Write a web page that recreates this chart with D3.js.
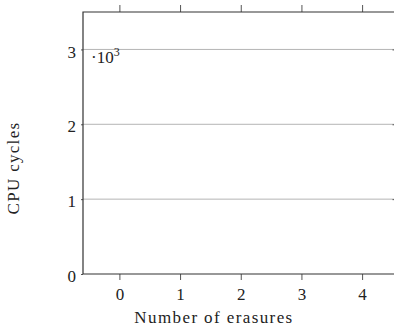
<!DOCTYPE html>
<html>
<head>
<meta charset="utf-8">
<script src="https://cdn.jsdelivr.net/npm/d3@7"></script>
<style>
  body { margin: 0; background: #fff; }
  svg { display: block; }
</style>
</head>
<body>
<script>
// axis settings (no series are plotted)
const xDomain = [-0.6, 4.6];
const yDomain = [0, 3.5];
const xTicks = [0, 1, 2, 3, 4];
const yTicks = [0, 1, 2, 3];
const series = [];

const FONT = '"Liberation Serif"';
const width = 394;
const height = 326;
const margin = { top: 12, right: -4.5, bottom: 52, left: 83 };

const svg = d3.select('body').append('svg')
  .attr('width', width)
  .attr('height', height);

const x = d3.scaleLinear()
  .domain(xDomain)
  .range([margin.left, width - margin.right]);

const y = d3.scaleLinear()
  .domain(yDomain)
  .range([height - margin.bottom, margin.top]);

// grid lines
svg.append('g')
  .selectAll('line')
  .data(yTicks.filter(d => d > 0))
  .enter().append('line')
    .attr('x1', x.range()[0])
    .attr('x2', x.range()[1])
    .attr('y1', d => y(d))
    .attr('y2', d => y(d))
    .attr('stroke', '#b4b4b4')
    .attr('stroke-width', 1);

// bottom axis
const gx = svg.append('g')
  .attr('transform', `translate(0,${y(0)})`)
  .call(d3.axisBottom(x)
    .tickValues(xTicks)
    .tickFormat(d3.format('d'))
    .tickSize(6)
    .tickPadding(8));
gx.attr('font-family', null);
gx.select('.domain').remove();
gx.selectAll('.tick line').attr('stroke', '#555');
gx.selectAll('.tick text')
  .style('font-family', FONT)
  .style('font-size', '17px')
  .attr('fill', '#222');

// top axis (ticks only)
const gt = svg.append('g')
  .attr('transform', `translate(0,${y(yDomain[1])})`)
  .call(d3.axisTop(x).tickValues(xTicks).tickSize(7).tickFormat(''));
gt.select('.domain').remove();
gt.selectAll('.tick line').attr('stroke', '#555');

// left axis
const gy = svg.append('g')
  .attr('transform', `translate(${x(xDomain[0])},0)`)
  .call(d3.axisLeft(y)
    .tickValues(yTicks)
    .tickFormat(d3.format('d'))
    .tickSize(2)
    .tickPadding(5));
gy.attr('font-family', null);
gy.select('.domain').remove();
gy.selectAll('.tick line').attr('stroke', '#555');
gy.selectAll('.tick text')
  .style('font-family', FONT)
  .style('font-size', '17px')
  .attr('fill', '#222')
  .attr('dy', '0.45em');

// right axis ticks, pointing inwards
svg.append('g')
  .attr('transform', `translate(${x(xDomain[1])},0)`)
  .call(d3.axisRight(y).tickValues(yTicks.filter(d => d > 0)).tickSize(-6).tickFormat(''))
  .call(g => g.select('.domain').remove())
  .selectAll('.tick line').attr('stroke', '#555');

// frame: left, top, bottom
svg.append('path')
  .attr('d', `M${x(xDomain[1])},${y(yDomain[1])}H${x(xDomain[0])}V${y(0)}H${x(xDomain[1])}`)
  .attr('fill', 'none')
  .attr('stroke', '#333')
  .attr('stroke-width', 1.2);

// scale factor label
const sf = svg.append('text')
  .attr('x', x(xDomain[0]) + 8)
  .attr('y', y(3) + 14)
  .style('font-family', FONT)
  .style('font-size', '17px')
  .attr('fill', '#222');
sf.append('tspan').text('·10');
sf.append('tspan').attr('dy', -7).style('font-size', '12px').text('3');

// axis titles
svg.append('text')
  .attr('x', 214)
  .attr('y', 323)
  .attr('text-anchor', 'middle')
  .style('font-family', FONT)
  .style('font-size', '17px')
  .style('letter-spacing', '1.4px')
  .attr('fill', '#222')
  .text('Number of erasures');

svg.append('text')
  .attr('transform', 'translate(19,168) rotate(-90)')
  .attr('text-anchor', 'middle')
  .style('font-family', FONT)
  .style('font-size', '17px')
  .style('letter-spacing', '1.3px')
  .attr('fill', '#222')
  .text('CPU cycles');
</script>
</body>
</html>
